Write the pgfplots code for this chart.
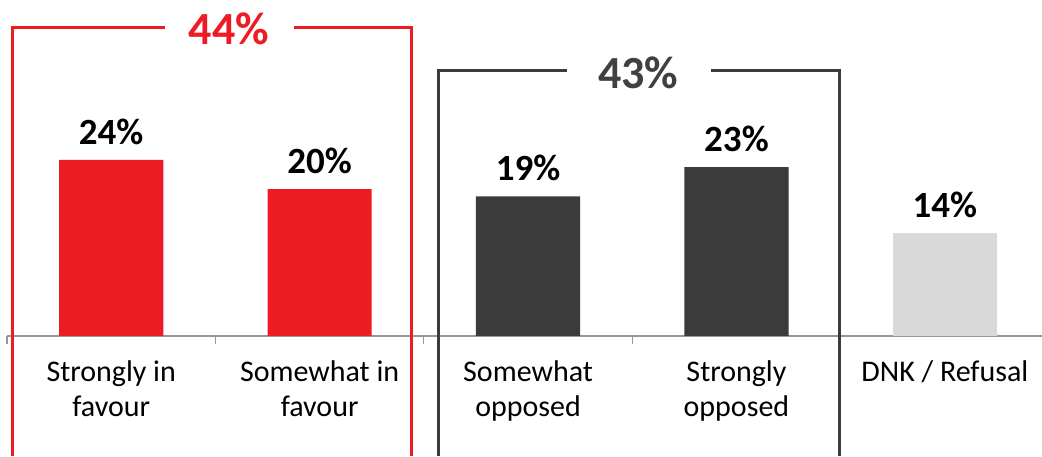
\documentclass[border=0pt]{standalone}
\usepackage{pgfplots}
\pgfplotsset{compat=1.18}
\usepackage{fontspec}
\setmainfont{Carlito}

\definecolor{favred}{HTML}{ED1C24}
\definecolor{oppdark}{HTML}{3B3B3B}
\definecolor{dnkgray}{HTML}{D9D9D9}
\definecolor{axisgray}{HTML}{969696}
\definecolor{labdark}{HTML}{404040}

\begin{document}
\begin{tikzpicture}
\begin{axis}[
    scale only axis,
    width=517.5pt, height=228pt,
    xmin=-0.5, xmax=4.466,
    ymin=-16.4, ymax=45.8,
    axis x line*=middle,
    axis y line=none,
    x axis line style={draw=axisgray, line width=0.8pt},
    ybar, bar width=0.5, bar shift=0pt,
    xtick={0,1,2,3,4},
    xticklabels={Strongly in\\favour, Somewhat in\\favour, Somewhat\\opposed, Strongly\\opposed, DNK / Refusal},
    major tick length=0pt,
    minor xtick={-0.5,0.5,1.5,2.5,3.5},
    minor tick length=4pt,
    tick align=outside,
    minor tick style={draw=axisgray, line width=0.6pt},
    xticklabel style={font=\fontsize{15}{17.5}\selectfont, align=center, anchor=north, yshift=-9pt},
    /pgf/number format/assume math mode=true,
    nodes near coords={\pgfmathprintnumber{\pgfplotspointmeta}\%},
    every node near coord/.append style={font=\fontsize{18.5}{22}\selectfont\bfseries, text=black, inner sep=0pt, yshift=7.5pt, anchor=south},
    clip=false,
]
\addplot[fill=favred, draw=none] coordinates {(0,24) (1,20)};
\addplot[fill=oppdark, draw=none] coordinates {(2,19) (3,23)};
\addplot[fill=dnkgray, draw=none] coordinates {(4,14)};

% favour bracket
\draw[favred, line width=1.5pt] (axis cs:0.258,42) -- (axis cs:-0.476,42) -- (axis cs:-0.476,-16.4);
\draw[favred, line width=1.5pt] (axis cs:0.877,42) -- (axis cs:1.443,42) -- (axis cs:1.443,-16.4);
\node[text=favred, font=\fontsize{23}{27}\selectfont\bfseries] at (axis cs:0.565,41.8) {44\%};

% opposed bracket
\draw[oppdark, line width=1.5pt] (axis cs:2.187,36.25) -- (axis cs:1.568,36.25) -- (axis cs:1.568,-16.4);
\draw[oppdark, line width=1.5pt] (axis cs:2.878,36.25) -- (axis cs:3.492,36.25) -- (axis cs:3.492,-16.4);
\node[text=labdark, font=\fontsize{23}{27}\selectfont\bfseries] at (axis cs:2.528,35.9) {43\%};
\end{axis}
\pgfresetboundingbox
\path (current axis.south west) ++(-3.5pt,0pt) rectangle (current axis.north east);
\end{tikzpicture}
\end{document}
